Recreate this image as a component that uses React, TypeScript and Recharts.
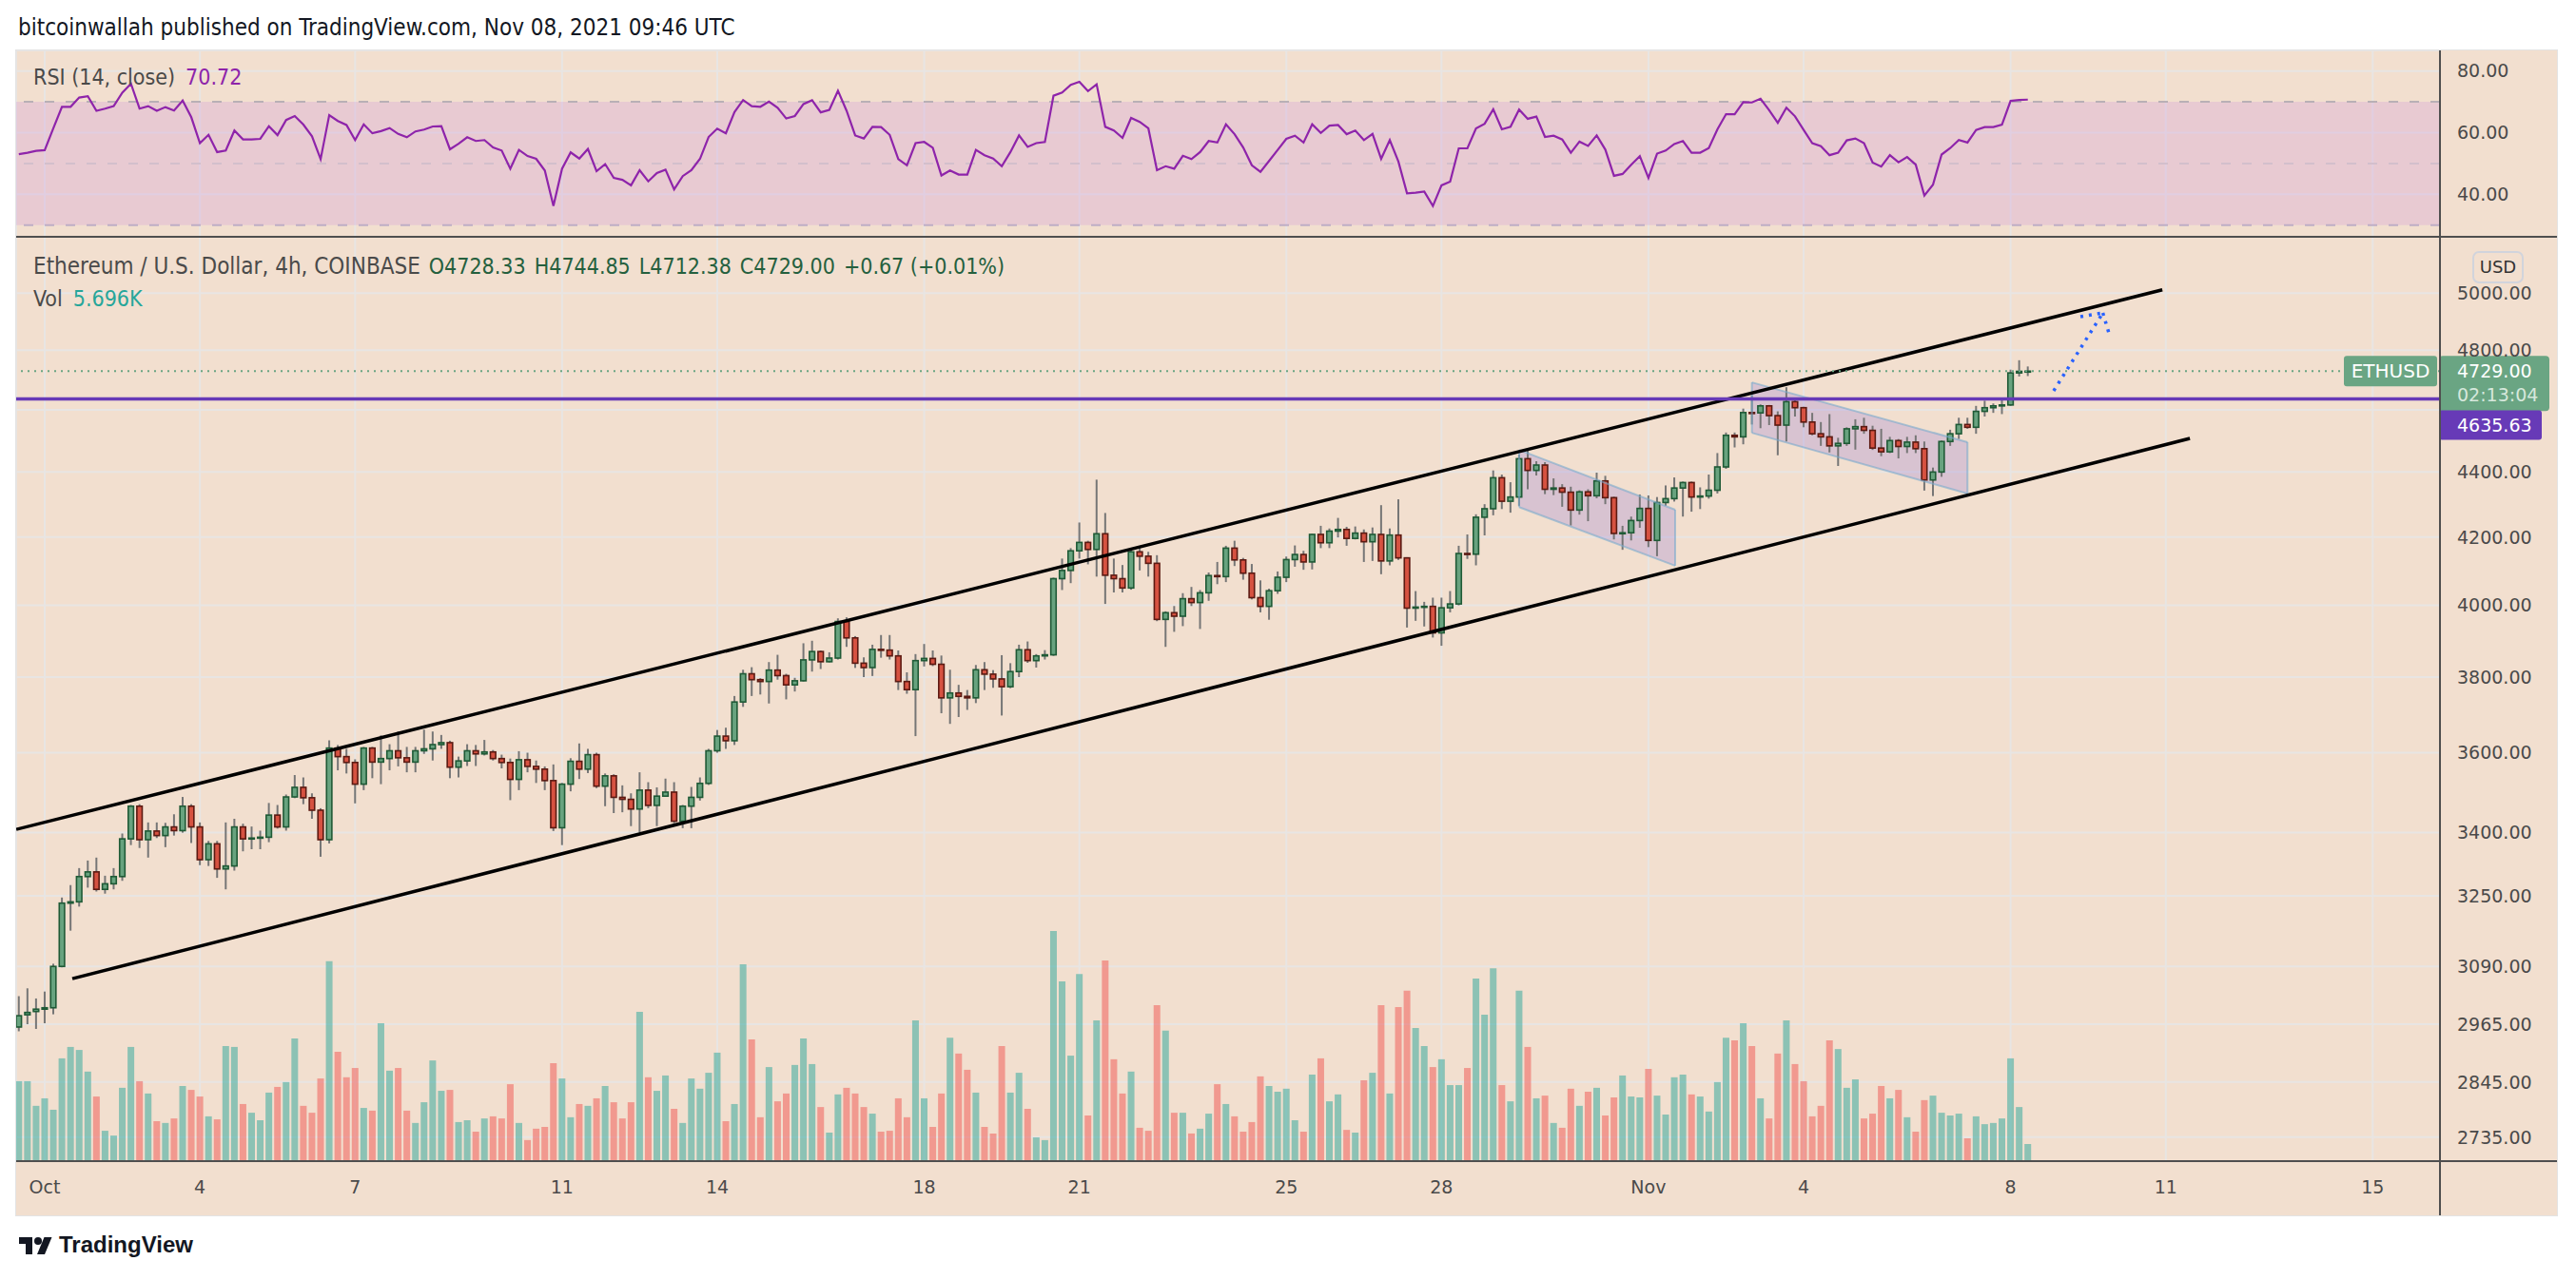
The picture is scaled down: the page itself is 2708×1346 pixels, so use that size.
import React from 'react';
import {
  ComposedChart,
  LineChart,
  Line,
  Bar,
  Area,
  Cell,
  XAxis,
  YAxis,
  CartesianGrid,
  ReferenceLine,
  ReferenceArea,
} from 'recharts';

// ETHUSD 4h candles (Coinbase). Index 0 = Oct 1 2021 00:00 UTC, first visible bar is Sep 30 12:00
const firstCandle = -3;

const opens = [
  2959, 2985, 2992, 2997, 3000, 3090, 3233, 3236, 3295, 3306,
  3265, 3278, 3295, 3385, 3465, 3383, 3404, 3393, 3414, 3405,
  3465, 3414, 3335, 3373, 3313, 3320, 3414, 3385, 3387, 3389,
  3443, 3414, 3488, 3512, 3486, 3455, 3383, 3612, 3590, 3575,
  3520, 3612, 3576, 3585, 3605, 3587, 3576, 3605, 3610, 3621,
  3626, 3563, 3579, 3605, 3597, 3602, 3585, 3575, 3532, 3582,
  3565, 3558, 3529, 3412, 3520, 3578, 3558, 3595, 3515, 3541,
  3487, 3482, 3458, 3505, 3467, 3490, 3500, 3428, 3465, 3487,
  3522, 3605, 3643, 3631, 3733, 3809, 3793, 3788, 3819, 3804,
  3779, 3790, 3847, 3870, 3842, 3852, 3954, 3908, 3838, 3826,
  3876, 3874, 3858, 3788, 3766, 3845, 3851, 3835, 3744, 3757,
  3748, 3744, 3820, 3808, 3795, 3774, 3815, 3875, 3845, 3858,
  3861, 4077, 4101, 4159, 4184, 4163, 4210, 4087, 4077, 4050,
  4156, 4143, 4122, 3960, 3979, 3969, 4019, 4008, 4036, 4086,
  4083, 4167, 4132, 4093, 4022, 3997, 4042, 4081, 4133, 4148,
  4126, 4208, 4183, 4218, 4223, 4196, 4212, 4186, 4208, 4129,
  4206, 4138, 3992, 3995, 3997, 3922, 3993, 4004, 4151, 4149,
  4260, 4286, 4382, 4309, 4322, 4442, 4405, 4422, 4346, 4350,
  4337, 4282, 4338, 4326, 4372, 4320, 4211, 4213, 4250, 4287,
  4190, 4305, 4317, 4350, 4367, 4322, 4325, 4343, 4416, 4517,
  4512, 4591, 4590, 4613, 4581, 4550, 4627, 4607, 4560, 4522,
  4512, 4483, 4491, 4538, 4545, 4533, 4476, 4464, 4500, 4481,
  4495, 4474, 4375, 4400, 4497, 4522, 4552, 4543, 4595, 4607,
  4613, 4616, 4723, 4728.33,
];

const highs = [
  3025, 3042, 3020, 3035, 3096, 3246, 3275, 3315, 3333, 3340,
  3297, 3315, 3398, 3468, 3470, 3425, 3425, 3424, 3445, 3488,
  3470, 3425, 3380, 3380, 3425, 3434, 3422, 3415, 3405, 3473,
  3468, 3494, 3543, 3537, 3497, 3460, 3632, 3620, 3610, 3583,
  3615, 3615, 3645, 3622, 3655, 3615, 3615, 3660, 3655, 3646,
  3631, 3590, 3622, 3620, 3633, 3607, 3595, 3585, 3604, 3600,
  3580, 3565, 3570, 3523, 3586, 3624, 3610, 3600, 3547, 3545,
  3517, 3497, 3550, 3525, 3512, 3534, 3525, 3468, 3513, 3537,
  3610, 3659, 3665, 3749, 3820, 3827, 3797, 3841, 3861, 3809,
  3798, 3893, 3900, 3873, 3868, 3963, 3966, 3913, 3854, 3889,
  3916, 3916, 3873, 3813, 3863, 3891, 3873, 3859, 3820, 3779,
  3765, 3833, 3841, 3819, 3860, 3838, 3889, 3898, 3863, 3874,
  4080, 4136, 4167, 4244, 4189, 4376, 4273, 4136, 4117, 4163,
  4170, 4156, 4146, 3983, 3998, 4035, 4053, 4044, 4095, 4126,
  4174, 4189, 4138, 4120, 4072, 4048, 4098, 4142, 4175, 4159,
  4210, 4234, 4226, 4258, 4231, 4232, 4223, 4229, 4297, 4226,
  4315, 4140, 4041, 4010, 4022, 4022, 4041, 4174, 4208, 4269,
  4300, 4405, 4392, 4368, 4455, 4470, 4434, 4431, 4380, 4362,
  4354, 4343, 4346, 4398, 4388, 4323, 4234, 4262, 4330, 4327,
  4322, 4358, 4383, 4370, 4370, 4352, 4392, 4460, 4526, 4526,
  4604, 4648, 4618, 4616, 4595, 4675, 4639, 4610, 4590, 4560,
  4586, 4509, 4543, 4569, 4574, 4548, 4538, 4512, 4505, 4512,
  4517, 4497, 4414, 4500, 4535, 4574, 4574, 4613, 4630, 4621,
  4639, 4734, 4766, 4744.85,
];

const lows = [
  2950, 2965, 2955, 2967, 2986, 3088, 3170, 3225, 3269, 3260,
  3255, 3265, 3285, 3370, 3363, 3340, 3387, 3365, 3393, 3400,
  3375, 3322, 3320, 3292, 3265, 3309, 3355, 3360, 3360, 3377,
  3410, 3405, 3485, 3470, 3434, 3342, 3374, 3555, 3547, 3472,
  3505, 3535, 3520, 3555, 3565, 3550, 3550, 3597, 3580, 3610,
  3535, 3537, 3566, 3566, 3593, 3580, 3560, 3480, 3505, 3550,
  3523, 3505, 3404, 3370, 3502, 3533, 3548, 3510, 3465, 3448,
  3450, 3416, 3401, 3460, 3416, 3488, 3423, 3411, 3411, 3479,
  3518, 3600, 3610, 3620, 3720, 3749, 3753, 3729, 3793, 3740,
  3761, 3788, 3815, 3822, 3840, 3848, 3883, 3825, 3800, 3803,
  3853, 3848, 3765, 3755, 3643, 3829, 3830, 3703, 3675, 3693,
  3712, 3730, 3765, 3771, 3697, 3770, 3800, 3839, 3826, 3848,
  3858, 4044, 4064, 4136, 4119, 4083, 4004, 4037, 4037, 4045,
  4101, 4083, 3955, 3883, 3925, 3941, 3998, 3933, 4013, 4061,
  4067, 4114, 4074, 4017, 3980, 3959, 4033, 4067, 4112, 4103,
  4104, 4167, 4167, 4199, 4174, 4193, 4126, 4129, 4090, 4116,
  4132, 3937, 3956, 3940, 3909, 3886, 3980, 4000, 4135, 4116,
  4205, 4266, 4285, 4274, 4295, 4346, 4389, 4331, 4328, 4292,
  4235, 4268, 4248, 4318, 4300, 4193, 4162, 4190, 4228, 4170,
  4143, 4295, 4308, 4262, 4277, 4285, 4317, 4333, 4410, 4478,
  4488, 4552, 4540, 4550, 4453, 4497, 4578, 4543, 4517, 4483,
  4462, 4419, 4483, 4471, 4522, 4470, 4450, 4460, 4443, 4460,
  4460, 4342, 4325, 4385, 4483, 4505, 4538, 4522, 4578, 4590,
  4586, 4613, 4711, 4712.38,
];

const closes = [
  2983, 2990, 2997, 3000, 3090, 3233, 3236, 3295, 3306, 3265,
  3278, 3295, 3385, 3465, 3383, 3404, 3393, 3414, 3405, 3465,
  3414, 3335, 3373, 3313, 3320, 3414, 3385, 3387, 3389, 3443,
  3414, 3488, 3512, 3486, 3455, 3383, 3612, 3590, 3575, 3520,
  3612, 3576, 3585, 3605, 3587, 3576, 3605, 3610, 3621, 3626,
  3563, 3579, 3605, 3597, 3602, 3585, 3575, 3532, 3582, 3565,
  3558, 3529, 3412, 3520, 3578, 3558, 3595, 3515, 3541, 3487,
  3482, 3458, 3505, 3467, 3490, 3500, 3428, 3465, 3487, 3522,
  3605, 3643, 3631, 3733, 3809, 3793, 3788, 3819, 3804, 3779,
  3790, 3847, 3870, 3842, 3852, 3954, 3908, 3838, 3826, 3876,
  3874, 3858, 3788, 3766, 3845, 3851, 3835, 3744, 3757, 3748,
  3744, 3820, 3808, 3795, 3774, 3815, 3875, 3845, 3858, 3861,
  4077, 4101, 4159, 4184, 4163, 4210, 4087, 4077, 4050, 4156,
  4143, 4122, 3960, 3979, 3969, 4019, 4008, 4036, 4086, 4083,
  4167, 4132, 4093, 4022, 3997, 4042, 4081, 4133, 4148, 4126,
  4208, 4183, 4218, 4223, 4196, 4212, 4186, 4208, 4129, 4206,
  4138, 3992, 3995, 3997, 3922, 3993, 4004, 4151, 4149, 4260,
  4286, 4382, 4309, 4322, 4442, 4405, 4422, 4346, 4350, 4337,
  4282, 4338, 4326, 4372, 4320, 4211, 4213, 4250, 4287, 4190,
  4305, 4317, 4350, 4367, 4322, 4325, 4343, 4416, 4517, 4512,
  4591, 4590, 4613, 4581, 4550, 4627, 4607, 4560, 4522, 4512,
  4483, 4491, 4538, 4545, 4533, 4476, 4464, 4500, 4481, 4495,
  4474, 4375, 4400, 4497, 4522, 4552, 4543, 4595, 4607, 4613,
  4616, 4723, 4728.33, 4729.0,
];

// volume in thousands of ETH
const volumes = [
  26.6, 26.6, 18.4, 20.9, 17.1, 34.2, 38.0, 37.0, 29.8, 21.5,
  10.1, 8.5, 24.4, 38.0, 26.6, 22.5, 13.3, 12.7, 14.2, 25.0,
  23.7, 21.5, 14.9, 13.9, 38.3, 38.0, 19.0, 16.1, 13.6, 22.8,
  24.7, 26.3, 40.8, 18.4, 16.1, 27.5, 66.5, 36.4, 27.9, 31.0,
  17.7, 16.8, 45.9, 30.1, 31.0, 16.8, 12.7, 19.6, 33.5, 23.4,
  23.7, 13.0, 13.6, 9.8, 14.2, 14.9, 14.2, 25.6, 12.7, 7.0,
  10.8, 11.4, 32.6, 27.5, 14.6, 19.0, 18.4, 20.9, 25.0, 19.6,
  14.2, 19.6, 49.7, 27.9, 23.4, 28.5, 17.4, 12.7, 27.5, 24.1,
  29.4, 36.1, 13.3, 19.0, 65.5, 40.5, 14.6, 31.3, 19.9, 22.5,
  32.0, 40.8, 32.3, 18.0, 9.5, 22.2, 24.4, 22.5, 18.0, 15.8,
  9.8, 10.1, 20.9, 14.6, 46.8, 20.9, 11.4, 22.5, 41.1, 35.8,
  30.4, 22.8, 11.4, 9.2, 38.3, 22.8, 29.4, 17.4, 7.9, 7.0,
  76.6, 59.8, 35.1, 62.3, 15.2, 46.8, 66.8, 33.9, 22.5, 29.8,
  11.1, 10.1, 51.9, 43.4, 16.1, 16.1, 9.2, 10.8, 15.8, 25.6,
  19.0, 14.9, 9.8, 13.0, 28.2, 25.0, 23.1, 24.1, 13.6, 9.8,
  28.8, 34.2, 19.9, 22.2, 10.4, 9.5, 26.9, 29.4, 51.9, 22.5,
  51.3, 56.7, 44.3, 38.3, 31.3, 33.9, 25.3, 25.3, 31.0, 60.8,
  48.7, 64.2, 25.3, 19.9, 56.7, 38.0, 20.9, 21.8, 12.7, 11.1,
  24.1, 18.4, 23.1, 24.4, 15.2, 21.2, 28.5, 21.5, 21.2, 30.7,
  21.8, 15.5, 27.9, 28.8, 22.2, 21.5, 16.5, 26.3, 41.1, 40.2,
  45.9, 38.3, 20.9, 14.2, 35.8, 46.8, 32.3, 26.6, 14.9, 18.4,
  40.2, 37.3, 24.4, 27.2, 14.2, 15.8, 25.0, 20.9, 23.7, 14.6,
  9.8, 20.3, 21.8, 16.1, 15.2, 15.8, 7.6, 14.9, 12.3, 12.7,
  14.2, 34.2, 18.0, 5.696,
];

const rsiValues = [
  53.0, 53.5, 54.1, 54.3, 61.4, 68.4, 68.4, 71.4, 71.8, 67.1,
  67.8, 68.6, 73.0, 75.9, 67.8, 68.6, 67.1, 68.3, 67.2, 70.4,
  65.0, 56.6, 59.3, 53.7, 54.2, 60.7, 57.8, 57.8, 58.0, 62.1,
  59.2, 64.1, 65.4, 62.6, 58.8, 51.4, 65.7, 63.8, 62.5, 57.6,
  62.7, 59.8, 60.5, 61.5, 59.6, 58.5, 60.4, 61.0, 62.0, 62.1,
  54.6, 56.4, 58.5, 57.3, 57.6, 55.2, 54.2, 48.3, 54.4, 52.4,
  51.5, 47.7, 36.2, 48.3, 53.6, 51.6, 54.7, 47.5, 49.8, 45.3,
  44.7, 42.9, 47.8, 44.2, 46.9, 48.0, 41.6, 45.9, 47.8, 51.5,
  58.6, 61.3, 59.8, 66.7, 70.6, 68.6, 68.4, 70.1, 68.1, 64.6,
  65.4, 69.3, 70.5, 66.6, 67.4, 73.6, 67.1, 59.1, 58.1, 61.9,
  61.8, 59.3, 51.4, 49.4, 56.6, 57.0, 55.1, 46.1, 47.7, 46.4,
  46.4, 54.4, 52.7, 51.6, 49.1, 53.7, 59.1, 55.4, 56.6, 57.0,
  72.0, 73.0, 75.5, 76.5, 73.5, 75.7, 61.9, 60.7, 58.3, 64.8,
  63.5, 61.4, 47.8, 49.1, 48.3, 52.5, 51.4, 53.7, 57.3, 56.8,
  62.7, 59.5, 55.2, 49.4, 47.3, 50.8, 54.4, 58.0, 59.0, 56.8,
  62.7, 59.9, 62.3, 62.5, 59.5, 60.7, 57.6, 59.6, 51.5, 57.6,
  50.6, 40.3, 40.5, 40.9, 36.2, 42.9, 44.1, 54.9, 54.9, 61.4,
  62.9, 67.6, 61.1, 61.9, 67.5, 64.5, 65.2, 58.6, 59.0, 57.8,
  53.5, 57.1, 55.7, 59.1, 54.5, 46.0, 46.6, 49.6, 52.4, 45.3,
  53.2, 54.2, 56.3, 57.3, 53.5, 53.5, 55.0, 61.1, 66.0, 66.0,
  69.9, 69.8, 71.0, 67.3, 63.2, 68.1, 65.3, 60.9, 56.6, 55.6,
  52.7, 53.5, 57.5, 58.1, 56.6, 50.3, 49.0, 52.7, 50.4, 52.1,
  49.6, 39.6, 43.1, 52.9, 55.0, 57.6, 56.8, 60.9, 61.8, 61.8,
  62.6, 70.3, 70.6, 70.72,
];

// date ticks, in candle index units
const dayTicks = [0, 18, 36, 60, 78, 102, 120, 144, 162, 186, 204, 228, 246, 270];
const dayLabels = ['Oct', '4', '7', '11', '14', '18', '21', '25', '28', 'Nov', '4', '8', '11', '15'];
const priceTicks = [2735, 2845, 2965, 3090, 3250, 3400, 3600, 3800, 4000, 4200, 4400, 4600, 4800, 5000];
const rsiTicks = [40, 60, 80];

// drawings
const upperChannel = [{ i: -3.3, price: 3408 }, { i: 245.6, price: 5012 }];
const lowerChannel = [{ i: 3.2, price: 3063 }, { i: 248.8, price: 4507 }];
const flagOne = [{ i: 171.0, bottom: 4291, top: 4470 }, { i: 189.1, bottom: 4115, top: 4283 }];
const flagTwo = [{ i: 198.0, bottom: 4525, top: 4691 }, { i: 223.0, bottom: 4333, top: 4495 }];
const arrowShaft = [{ i: 233.0, price: 4663 }, { i: 238.7, price: 4930 }];
const arrowBarbs = [{ i: 236.1, price: 4917 }, { i: 239.5, price: 4850 }];
const supportLevel = 4635.63;

const X_DOMAIN: [number, number] = [-3.31, 277.8];
const PRICE_DOMAIN: [number, number] = [2688.5, 5205.7];
const VOL_DOMAIN: [number, number] = [0, 307.6];
const RSI_DOMAIN: [number, number] = [26.2, 86.7];

const BG = '#f2dfcf';
const GRID = '#e8e5e3';
const AXIS_TEXT = '#4a4a4a';
const FRAME = '#4f4f4f';
const UP_BODY = '#68a37f';
const UP_BORDER = '#1f5a36';
const DOWN_BODY = '#d65241';
const DOWN_BORDER = '#5c1a12';
const WICK = '#767676';
const VOL_UP = 'rgba(38,166,154,0.5)';
const VOL_DOWN = 'rgba(239,83,80,0.5)';
const BADGE_GREEN = '#6aa583';
const LEVEL_PURPLE = '#673ab7';
const RSI_LINE = '#8e24aa';
const COND = '"DejaVu Sans Condensed", "DejaVu Sans", sans-serif';
const SANS = '"DejaVu Sans", sans-serif';

const candles = closes.map((close, k) => ({
  i: firstCandle + k,
  open: opens[k],
  high: highs[k],
  low: lows[k],
  close,
  volume: volumes[k],
  rsi: rsiValues[k],
}));

const last = candles[candles.length - 1];
const prev = candles[candles.length - 2];
const change = last.close - prev.close;

function Candle(props: any) {
  const { x, y, width, height, payload } = props;
  if (!payload || height == null) return null;
  const { open, high, low, close } = payload;
  const top = Math.min(y, y + height);
  const span = Math.abs(height);
  const logSpan = Math.log(high) - Math.log(low) || 1;
  const toY = (p: number) => top + ((Math.log(high) - Math.log(p)) / logSpan) * span;
  const cx = x + width / 2;
  const up = close >= open;
  const yTop = toY(Math.max(open, close));
  const yBot = toY(Math.min(open, close));
  return (
    <g>
      <line x1={cx} x2={cx} y1={top} y2={top + span} stroke={WICK} strokeWidth={2} />
      <rect
        x={cx - 2.8}
        y={yTop}
        width={5.6}
        height={Math.max(yBot - yTop, 1)}
        fill={up ? UP_BODY : DOWN_BODY}
        stroke={up ? UP_BORDER : DOWN_BORDER}
        strokeWidth={1.6}
      />
    </g>
  );
}

function LastPriceBadge(props: any) {
  const { viewBox } = props;
  if (!viewBox) return null;
  const ax = viewBox.x + viewBox.width;
  const cy = viewBox.y;
  return (
    <g style={{ fontFamily: SANS }}>
      <rect x={ax - 101} y={cy - 16} width={98} height={32} rx={3} fill={BADGE_GREEN} />
      <text x={ax - 52} y={cy} textAnchor="middle" dominantBaseline="central" fill="#fff" fontSize={20}>
        ETHUSD
      </text>
      <rect x={ax - 1} y={cy - 16} width={116} height={58} rx={4} fill={BADGE_GREEN} />
      <text x={ax + 18} y={cy} dominantBaseline="central" fill="#fff" fontSize={19}>
        {last.close.toFixed(2)}
      </text>
      <text x={ax + 18} y={cy + 25} dominantBaseline="central" fill="#d6e8dc" fontSize={19}>
        02:13:04
      </text>
    </g>
  );
}

function LevelBadge(props: any) {
  const { viewBox } = props;
  if (!viewBox) return null;
  const ax = viewBox.x + viewBox.width;
  const top = viewBox.y + 12;
  return (
    <g style={{ fontFamily: SANS }}>
      <rect x={ax - 1} y={top} width={108} height={31} rx={3} fill={LEVEL_PURPLE} />
      <text x={ax + 18} y={top + 15.5} dominantBaseline="central" fill="#fff" fontSize={19}>
        {supportLevel.toFixed(2)}
      </text>
    </g>
  );
}

const seg = (a: { i: number; price: number }, b: { i: number; price: number }) => [
  { x: a.i, y: a.price },
  { x: b.i, y: b.price },
];

function flagEdges(flag: { i: number; bottom: number; top: number }[]) {
  const [s, e] = flag;
  return [
    seg({ i: s.i, price: s.top }, { i: e.i, price: e.top }),
    seg({ i: s.i, price: s.bottom }, { i: e.i, price: e.bottom }),
    seg({ i: s.i, price: s.bottom }, { i: s.i, price: s.top }),
    seg({ i: e.i, price: e.bottom }, { i: e.i, price: e.top }),
  ];
}

function PriceChart() {
  const flagLines = [...flagEdges(flagOne), ...flagEdges(flagTwo)];
  return (
    <ComposedChart width={2671} height={1029} data={candles} margin={{ top: 0, right: 0, bottom: 0, left: 0 }}>
      <CartesianGrid xAxisId="px" yAxisId="price" stroke={GRID} strokeWidth={2} />
      <XAxis
        xAxisId="px"
        dataKey="i"
        type="number"
        domain={X_DOMAIN}
        allowDataOverflow
        ticks={dayTicks}
        interval={0}
        tickFormatter={(v: number) => dayLabels[dayTicks.indexOf(v)] ?? ''}
        height={57}
        axisLine={false}
        tickLine={false}
        tickSize={0}
        tickMargin={21}
        tick={{ fill: AXIS_TEXT, fontSize: 19, fontFamily: SANS }}
      />
      <XAxis xAxisId="vx" dataKey="i" type="number" domain={X_DOMAIN} allowDataOverflow hide />
      <YAxis
        yAxisId="price"
        orientation="right"
        scale="log"
        type="number"
        domain={PRICE_DOMAIN}
        allowDataOverflow
        ticks={priceTicks}
        interval={0}
        width={123}
        axisLine={false}
        tickLine={false}
        tickSize={0}
        tickMargin={18}
        tickFormatter={(v: number) => (v === 4600 ? '' : v.toFixed(2))}
        tick={{ fill: AXIS_TEXT, fontSize: 19, fontFamily: SANS, textAnchor: 'start' }}
      />
      <YAxis yAxisId="vol" hide domain={VOL_DOMAIN} allowDataOverflow />

      <Bar xAxisId="vx" yAxisId="vol" dataKey="volume" barSize={7} isAnimationActive={false}>
        {candles.map((c) => (
          <Cell key={c.i} fill={c.close >= c.open ? VOL_UP : VOL_DOWN} />
        ))}
      </Bar>

      {/* descending flags */}
      <Area
        xAxisId="px"
        yAxisId="price"
        data={flagOne.map((f) => ({ i: f.i, band: [f.bottom, f.top] }))}
        dataKey="band"
        type="linear"
        stroke="none"
        fill="rgb(140,110,215)"
        fillOpacity={0.25}
        dot={false}
        activeDot={false}
        isAnimationActive={false}
      />
      <Area
        xAxisId="px"
        yAxisId="price"
        data={flagTwo.map((f) => ({ i: f.i, band: [f.bottom, f.top] }))}
        dataKey="band"
        type="linear"
        stroke="none"
        fill="rgb(140,110,215)"
        fillOpacity={0.25}
        dot={false}
        activeDot={false}
        isAnimationActive={false}
      />

      <Bar
        xAxisId="px"
        yAxisId="price"
        dataKey={(d: any) => [d.low, d.high]}
        barSize={7}
        shape={<Candle />}
        isAnimationActive={false}
      />

      {flagLines.map((s, k) => (
        <ReferenceLine
          key={`flag-${k}`}
          xAxisId="px"
          yAxisId="price"
          segment={s}
          stroke="rgba(120,170,205,0.6)"
          strokeWidth={2}
        />
      ))}

      {/* rising channel */}
      <ReferenceLine xAxisId="px" yAxisId="price" segment={seg(upperChannel[0], upperChannel[1])} stroke="#000" strokeWidth={3.5} />
      <ReferenceLine xAxisId="px" yAxisId="price" segment={seg(lowerChannel[0], lowerChannel[1])} stroke="#000" strokeWidth={3.5} />

      <ReferenceLine
        xAxisId="px"
        yAxisId="price"
        y={last.close}
        stroke={BADGE_GREEN}
        strokeWidth={2}
        strokeDasharray="2 5"
        label={<LastPriceBadge />}
      />
      <ReferenceLine
        xAxisId="px"
        yAxisId="price"
        y={supportLevel}
        stroke={LEVEL_PURPLE}
        strokeWidth={3.5}
        label={<LevelBadge />}
      />

      {/* projected breakout arrow */}
      <ReferenceLine xAxisId="px" yAxisId="price" segment={seg(arrowShaft[0], arrowShaft[1])} stroke="#2962ff" strokeWidth={3.5} strokeDasharray="3 6" />
      <ReferenceLine xAxisId="px" yAxisId="price" segment={seg(arrowBarbs[0], arrowShaft[1])} stroke="#2962ff" strokeWidth={3.5} strokeDasharray="3 6" />
      <ReferenceLine xAxisId="px" yAxisId="price" segment={seg(arrowShaft[1], arrowBarbs[1])} stroke="#2962ff" strokeWidth={3.5} strokeDasharray="3 6" />
    </ComposedChart>
  );
}

function RsiChart() {
  return (
    <LineChart width={2671} height={196} data={candles} margin={{ top: 0, right: 0, bottom: 0, left: 0 }}>
      <CartesianGrid stroke={GRID} strokeWidth={2} />
      <XAxis
        dataKey="i"
        type="number"
        domain={X_DOMAIN}
        allowDataOverflow
        ticks={dayTicks}
        interval={0}
        height={0}
        tickFormatter={() => ''}
        axisLine={false}
        tickLine={false}
      />
      <YAxis
        orientation="right"
        type="number"
        domain={RSI_DOMAIN}
        allowDataOverflow
        ticks={rsiTicks}
        interval={0}
        width={123}
        axisLine={false}
        tickLine={false}
        tickSize={0}
        tickMargin={18}
        tickFormatter={(v: number) => v.toFixed(2)}
        tick={{ fill: AXIS_TEXT, fontSize: 19, fontFamily: SANS, textAnchor: 'start' }}
      />
      <ReferenceArea y1={30} y2={70} fill="rgb(202,139,219)" fillOpacity={0.25} stroke="none" />
      <ReferenceLine y={70} stroke="#b9b0b5" strokeWidth={2} strokeDasharray="10 12" />
      <ReferenceLine y={50} stroke="#d3bfcc" strokeWidth={2} strokeDasharray="10 12" />
      <ReferenceLine y={30} stroke="#bfaec6" strokeWidth={2} strokeDasharray="10 12" />
      <Line
        dataKey="rsi"
        type="linear"
        stroke={RSI_LINE}
        strokeWidth={2.2}
        dot={false}
        activeDot={false}
        isAnimationActive={false}
      />
    </LineChart>
  );
}

const textRow = (top: number, size: number): React.CSSProperties => ({
  position: 'absolute',
  left: 35,
  top: top - 15,
  height: 30,
  lineHeight: '30px',
  fontSize: size,
  fontFamily: COND,
  fontStretch: 'condensed',
  color: AXIS_TEXT,
  whiteSpace: 'pre',
});

export default function App() {
  const value = { marginLeft: 9, color: '#25603e', fontSize: 23 };
  const gap = { marginLeft: 11 };
  return (
    <div style={{ position: 'absolute', left: 0, top: 0, width: 2708, height: 1346, background: '#fff', overflow: 'hidden' }}>
      <div
        style={{
          position: 'absolute',
          left: 19,
          top: 13,
          height: 32,
          lineHeight: '32px',
          fontSize: 24,
          fontFamily: COND,
          fontStretch: 'condensed',
          color: '#131722',
          whiteSpace: 'pre',
        }}
      >
        bitcoinwallah published on TradingView.com, Nov 08, 2021 09:46 UTC
      </div>

      {/* chart frame */}
      <div style={{ position: 'absolute', left: 16, top: 52, width: 2673, height: 1227, background: BG, border: '1px solid #e3e3e3', boxSizing: 'border-box' }} />

      <div style={{ position: 'absolute', left: 17, top: 53 }}>
        <RsiChart />
      </div>
      <div style={{ position: 'absolute', left: 17, top: 249 }}>
        <PriceChart />
      </div>

      {/* pane separators */}
      <div style={{ position: 'absolute', left: 2564, top: 53, width: 2, height: 1225, background: FRAME }} />
      <div style={{ position: 'absolute', left: 17, top: 248, width: 2671, height: 2, background: FRAME }} />
      <div style={{ position: 'absolute', left: 17, top: 1220, width: 2671, height: 2, background: FRAME }} />

      {/* legends */}
      <div style={textRow(81, 23)}>
        RSI (14, close)<span style={{ ...gap, color: RSI_LINE }}>{last.rsi.toFixed(2)}</span>
      </div>
      <div style={textRow(280, 24)}>
        Ethereum / U.S. Dollar, 4h, COINBASE
        <span style={value}>O{last.open.toFixed(2)}</span>
        <span style={value}>H{last.high.toFixed(2)}</span>
        <span style={value}>L{last.low.toFixed(2)}</span>
        <span style={value}>C{last.close.toFixed(2)}</span>
        <span style={value}>
          {change >= 0 ? '+' : ''}
          {change.toFixed(2)} ({change >= 0 ? '+' : ''}
          {((change / prev.close) * 100).toFixed(2)}%)
        </span>
      </div>
      <div style={textRow(314, 23)}>
        Vol<span style={{ ...gap, color: '#26a69a' }}>{last.volume.toFixed(3)}K</span>
      </div>

      {/* currency badge */}
      <div
        style={{
          position: 'absolute',
          left: 2599,
          top: 264,
          width: 54,
          height: 34,
          border: '2px solid #d1d4dc',
          borderRadius: 7,
          boxSizing: 'border-box',
          fontFamily: SANS,
          fontSize: 18,
          lineHeight: '30px',
          textAlign: 'center',
          color: '#333',
        }}
      >
        USD
      </div>

      {/* TradingView logo */}
      <div style={{ position: 'absolute', left: 20, top: 1293, height: 32, display: 'flex', alignItems: 'center' }}>
        <svg width="36" height="24" viewBox="0 0 36 24">
          <path d="M14 22H7V11H0V4h14v18z" fill="#131722" />
          <circle cx="20" cy="8" r="4" fill="#131722" />
          <path d="M27 22h-8l7.5-18h8L27 22z" fill="#131722" />
        </svg>
        <span style={{ marginLeft: 6, fontFamily: '"Liberation Sans", sans-serif', fontWeight: 700, fontSize: 24, color: '#131722' }}>
          TradingView
        </span>
      </div>
    </div>
  );
}
